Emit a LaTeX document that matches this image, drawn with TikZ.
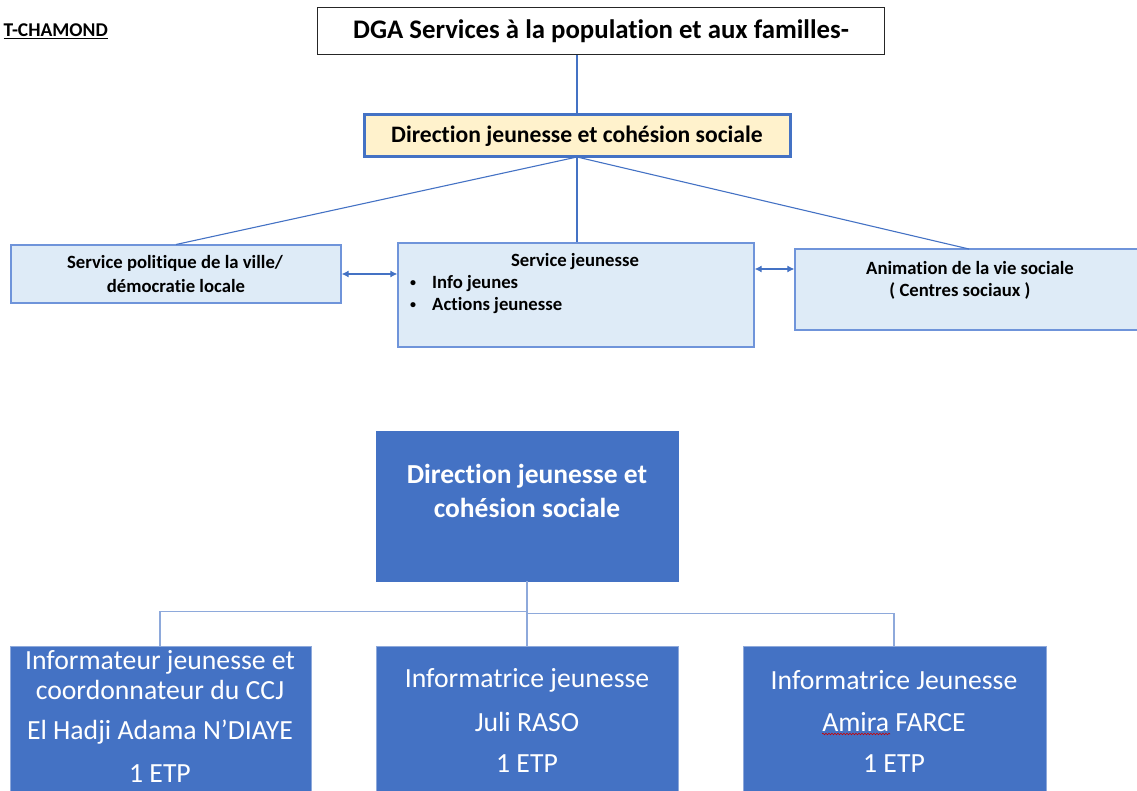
\documentclass[tikz,border=0pt]{standalone}
\usepackage{fontspec}
\setmainfont{Carlito}[Ligatures=NoCommon]
\usetikzlibrary{arrows.meta,decorations.pathmorphing}
\definecolor{dblue}{HTML}{4472C4}
\definecolor{lblue}{HTML}{DEEBF7}
\definecolor{bord}{HTML}{6F94DA}
\definecolor{ylw}{HTML}{FFF2CC}
\definecolor{conn}{HTML}{8EA9DB}
\tikzset{
  box/.style={draw, rectangle, inner sep=0pt},
  lightbox/.style={box, draw=bord, fill=lblue, line width=1.3pt},
  darkbox/.style={box, draw=conn, fill=dblue, line width=1pt},
  lbl/.style={inner sep=0pt, font=\fontsize{18.7}{22}\selectfont\bfseries},
  bul/.style={inner sep=0pt, font=\fontsize{12}{14}\selectfont\bfseries},
  wtxt/.style={inner sep=0pt, text=white, font=\fontsize{27.7}{32}\selectfont},
  topline/.style={draw=dblue, line width=1.1pt},
  botline/.style={draw=conn, line width=1.3pt},
  darr/.style={topline, {Latex[length=7pt,width=7pt]}-{Latex[length=7pt,width=7pt]}}
}
\begin{document}
\begin{tikzpicture}[x=1pt,y=-1pt]
\useasboundingbox (0,0) rectangle (1137,791);
\clip (0,0) rectangle (1137,791);
% title at left
\node[inner sep=0pt, anchor=east, font=\fontsize{19.5}{22}\selectfont\bfseries] (city) at (108,31) {\underline{T-CHAMOND}};
% DGA
\node[box, draw=black!85, line width=1pt, minimum width=567pt, minimum height=47pt] (dga) at (600.5,31.5) {};
\node[inner sep=0pt, font=\fontsize{26.8}{30}\selectfont\bfseries] (dgat) at (601,31.5) {DGA Services à la population et aux familles-};
% Direction
\node[box, draw=dblue, fill=ylw, line width=3pt, minimum width=426pt, minimum height=42pt] (dir) at (577,136) {};
\node[inner sep=0pt, font=\fontsize{23.6}{27}\selectfont\bfseries] (dirt) at (577,136) {Direction jeunesse et cohésion sociale};
% services
\node[lightbox, minimum width=330pt, minimum height=58pt] (spv) at (176,274) {};
\node[lbl] (spv1) at (175,263) {Service politique de la ville/};
\node[lbl] (spv2) at (176,286) {démocratie locale};
\node[lightbox, minimum width=356pt, minimum height=104pt] (sj) at (576,295) {};
\node[lbl] (sjt) at (575,262) {Service jeunesse};
\node[bul] (b1) at (413,284) {•};
\node[lbl, anchor=west] (sj1) at (432,284) {Info jeunes};
\node[bul] (b2) at (413,306) {•};
\node[lbl, anchor=west] (sj2) at (432,306) {Actions jeunesse};
\node[lightbox, minimum width=360pt, minimum height=81pt] (avs) at (975,289.5) {};
\node[lbl] (avs1) at (970,268) {Animation de la vie sociale};
\node[lbl] (avs2) at (960,291) {( Centres sociaux )};
% top connectors
\draw[topline] (dga.south -| dir.north) -- (dir.north);
\coordinate (hub) at (577,157);
\draw[topline] (hub) -- (176,244.5);
\draw[topline] (hub) -- (sj.north -| hub);
\draw[topline] (hub) -- (969,249);
\draw[darr] (spv.east) -- (sj.west |- spv.east);
\draw[darr] (sj.east |- 0,269) -- (avs.west |- 0,269);
% bottom
\node[box, fill=dblue, draw=dblue, minimum width=302pt, minimum height=150pt] (djc) at (527,506) {};
\node[inner sep=0pt, text=white, font=\fontsize{27.5}{32}\selectfont\bfseries] (djc1) at (527,476) {Direction jeunesse et};
\node[inner sep=0pt, text=white, font=\fontsize{27.5}{32}\selectfont\bfseries] (djc2) at (527,508) {cohésion sociale};
\node[darkbox, minimum width=301pt, minimum height=170pt] (ij1) at (160.5,731) {};
\node[darkbox, minimum width=302pt, minimum height=170pt] (ij2) at (527,731) {};
\node[darkbox, minimum width=303pt, minimum height=170pt] (ij3) at (894.5,731) {};
\node[wtxt] (t11) at (160,662) {Informateur jeunesse et};
\node[wtxt] (t12) at (160,690) {coordonnateur du CCJ};
\node[wtxt] (t13) at (160,732) {El Hadji Adama N’DIAYE};
\node[wtxt] (t14) at (160,774) {1 ETP};
\node[wtxt] (t21) at (527,680) {Informatrice jeunesse};
\node[wtxt] (t22) at (527,722) {Juli RASO};
\node[wtxt] (t23) at (527,764) {1 ETP};
\node[wtxt] (t31) at (894,680) {Informatrice Jeunesse};
\node[wtxt] (t32) at (894,722) {Amira FARCE};
\node[wtxt] (t33) at (894,764) {1 ETP};
\draw[red!80!black, line width=0.6pt, decorate, decoration={snake, amplitude=0.8pt, segment length=3pt}] (822,734) -- (890,734);
% bottom connectors
\draw[botline] (djc.south) -- (527,611.5) -| (ij1.north -| 160,0);
\draw[botline] (djc.south) -- (527,613.5) -| (ij3.north -| 894,0);
\draw[botline] (djc.south) -- (ij2.north);
\end{tikzpicture}
\end{document}
